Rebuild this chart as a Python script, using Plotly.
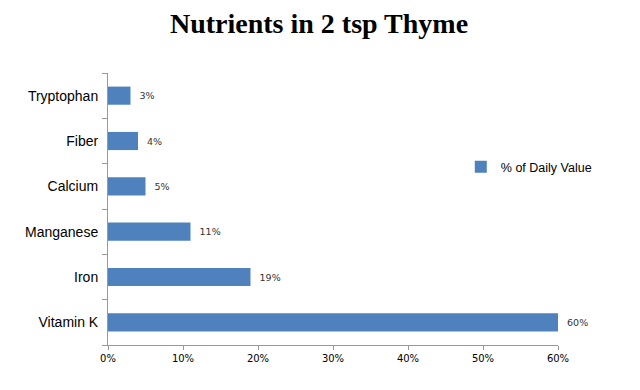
import plotly.graph_objects as go

categories = ["Vitamin K", "Iron", "Manganese", "Calcium", "Fiber", "Tryptophan"]
values = [60, 19, 11, 5, 4, 3]
x_ticks = [0, 10, 20, 30, 40, 50, 60]
x_tick_labels = ["0%", "10%", "20%", "30%", "40%", "50%", "60%"]
series_name = "% of Daily Value"

fig = go.Figure()
fig.add_trace(go.Bar(
    y=categories, x=values, orientation="h", name=series_name,
    marker=dict(color="#4F81BD", line=dict(width=0)),
    text=[f"  {v}%" for v in values], textposition="outside",
    textfont=dict(family="DejaVu Sans, Verdana, sans-serif", size=9.5, color="#333333"),
    cliponaxis=False, showlegend=True,
))
fig.update_layout(
    width=640, height=390,
    margin=dict(l=100, r=90, t=65, b=53),
    paper_bgcolor="white", plot_bgcolor="white",
    title=dict(text="<b>Nutrients in 2 tsp Thyme</b>", x=0.486, xanchor="center", y=0.96, yanchor="middle",
               font=dict(family="Liberation Serif, Times New Roman, serif", size=28, color="black")),
    bargap=0.6,
    legend=dict(x=0.784, y=0.654, xanchor="left", yanchor="middle",
                font=dict(family="Liberation Sans, Arial, sans-serif", size=12.5, color="black"),
                bgcolor="rgba(0,0,0,0)", itemwidth=30),
    xaxis=dict(range=[0, 60], tickvals=x_ticks, ticktext=x_tick_labels,
               showgrid=False, zeroline=False, showline=True, linecolor="#999999", linewidth=1,
               ticks="outside", ticklen=4, tickcolor="#999999",
               tickfont=dict(family="DejaVu Sans, Verdana, sans-serif", size=10, color="black")),
    yaxis=dict(showgrid=False, showline=True, linecolor="#999999", linewidth=1,
               ticks="outside", ticklen=5, tickcolor="#999999", tickson="boundaries",
               tickfont=dict(family="Liberation Sans, Arial, sans-serif", size=14, color="black"),
               ticklabelstandoff=6),
)
fig.write_html("out.html")
